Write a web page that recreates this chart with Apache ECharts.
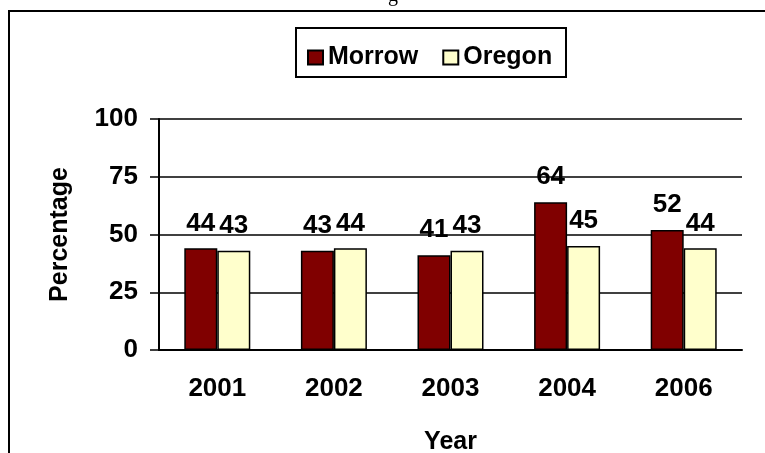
<!DOCTYPE html>
<html>
<head>
<meta charset="utf-8">
<script src="https://cdn.jsdelivr.net/npm/echarts@6/dist/echarts.min.js"></script>
<style>
  html, body { margin: 0; padding: 0; background: #fff; }
  #main { width: 765px; height: 453px; }
</style>
</head>
<body>
<div id="main"></div>
<script>
var years = ['2001', '2002', '2003', '2004', '2006'];
var morrow = [44, 43, 41, 64, 52];
var oregon = [43, 44, 43, 45, 44];
var yTicks = { min: 0, max: 100, step: 25 };

var font = '"Liberation Sans", Arial, sans-serif';
var txt = { color: '#000', fontWeight: 'bold', fontFamily: font, fontSize: 26 };

var chart = echarts.init(document.getElementById('main'));

var option = {
    animation: false,
    backgroundColor: '#fff',
    grid: { left: 159, right: 23, top: 119, bottom: 103, outerBoundsMode: 'none', containLabel: false },
    graphic: [
        // outer frame (right and bottom edges fall outside the picture)
        { type: 'rect', shape: { x: 9, y: 11, width: 800, height: 500 },
          style: { fill: 'none', stroke: '#000', lineWidth: 2 } },
        // legend frame
        { type: 'rect', shape: { x: 296, y: 28, width: 270, height: 49 },
          style: { fill: '#fff', stroke: '#000', lineWidth: 2 }, z: -1 },
        // tail of the cut-off title
        { type: 'text', left: 388, top: -14,
          style: { text: 'g', fontFamily: '"Liberation Serif", serif', fontSize: 20, fill: '#000' } }
    ],
    legend: {
        left: 302,
        top: 40,
        icon: 'rect',
        itemWidth: 15,
        itemHeight: 14,
        itemGap: 24,
        textStyle: { color: '#000', fontWeight: 'bold', fontFamily: font, fontSize: 25, lineHeight: 25 },
        data: ['Morrow', 'Oregon']
    },
    xAxis: {
        type: 'category',
        data: years,
        name: 'Year',
        nameLocation: 'middle',
        nameGap: 80,
        nameTextStyle: Object.assign({}, txt, { fontSize: 25 }),
        axisLine: { lineStyle: { color: '#000', width: 2 } },
        axisTick: { length: 8, lineStyle: { color: '#000', width: 2 } },
        axisLabel: Object.assign({ margin: 26 }, txt),
        splitLine: { show: false }
    },
    yAxis: {
        type: 'value',
        min: yTicks.min,
        max: yTicks.max,
        interval: yTicks.step,
        name: 'Percentage',
        nameLocation: 'middle',
        nameRotate: 90,
        nameGap: 86,
        nameTextStyle: Object.assign({}, txt, { fontSize: 25 }),
        axisLine: { show: true, lineStyle: { color: '#000', width: 2 } },
        axisTick: { show: true, length: 9, lineStyle: { color: '#000', width: 1.5 } },
        axisLabel: Object.assign({ margin: 21 }, txt),
        splitLine: { lineStyle: { color: '#000', width: 1.5 } }
    },
    series: [
        {
            name: 'Morrow',
            type: 'bar',
            data: morrow,
            barWidth: 33,
            barGap: '0%',
            itemStyle: { color: '#800000', borderColor: '#000', borderWidth: 1.5 },
            label: Object.assign({ show: true, position: 'top', distance: 12 }, txt)
        },
        {
            name: 'Oregon',
            type: 'bar',
            data: oregon,
            barWidth: 33,
            itemStyle: { color: '#FFFFCC', borderColor: '#000', borderWidth: 1.5 },
            label: Object.assign({ show: true, position: 'top', distance: 12 }, txt)
        }
    ]
};

chart.setOption(option);
</script>
</body>
</html>
